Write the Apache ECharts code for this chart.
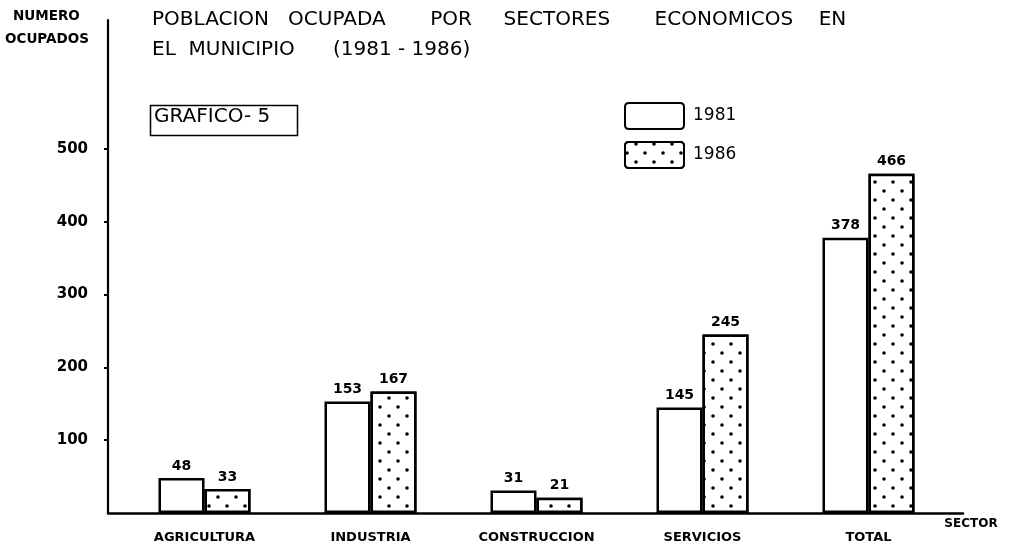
<!DOCTYPE html>
<html>
<head>
<meta charset="utf-8">
<script src="https://cdn.jsdelivr.net/npm/echarts@6/dist/echarts.min.js"></script>
<style>
  html, body { margin: 0; padding: 0; background: #fff; }
  #chart { width: 1010px; height: 546px; }
</style>
</head>
<body>
<div id="chart"></div>
<script>
// Sectors and employed population per census year
const categories = ['AGRICULTURA', 'INDUSTRIA', 'CONSTRUCCION', 'SERVICIOS', 'TOTAL'];
const values1981 = [48, 153, 31, 145, 378];
const values1986 = [33, 167, 21, 245, 466];
const seriesNames = ['1981', '1986'];
const yTicks = [100, 200, 300, 400, 500];
const yMax = 677;

const FONT = 'DejaVu Sans';
const INK = '#000';

// Stippled fill used for the 1986 bars: staggered rows of dots
const dotted = {
  symbol: 'circle',
  symbolSize: 0.9,
  color: INK,
  backgroundColor: '#fff',
  dashArrayX: [[3.6, 13.1], [0, 8.35, 3.6, 4.75]],
  dashArrayY: [3.6, 4.7],
  rotation: 0
};

const barLabel = {
  show: true,
  position: 'top',
  distance: 5,
  fontFamily: FONT,
  fontSize: 14,
  fontWeight: 'bold',
  color: INK
};

const chart = echarts.init(document.getElementById('chart'), null, { renderer: 'canvas' });

chart.setOption({
  animation: false,
  backgroundColor: '#fff',
  textStyle: { fontFamily: FONT, color: INK },
  title: {
    text: 'POBLACION   OCUPADA       POR     SECTORES       ECONOMICOS    EN\nEL  MUNICIPIO      (1981 - 1986)',
    left: 152,
    top: 5,
    padding: 0,
    textStyle: { fontFamily: FONT, fontSize: 20, fontWeight: 'normal', lineHeight: 30, color: INK }
  },
  legend: {
    data: seriesNames,
    orient: 'vertical',
    left: 624,
    top: 102,
    padding: 0,
    itemWidth: 59,
    itemHeight: 26,
    itemGap: 11,
    icon: 'path://M4,0H55Q59,0 59,4V22Q59,26 55,26H4Q0,26 0,22V4Q0,0 4,0Z',
    itemStyle: { borderColor: INK, borderWidth: 2 },
    textStyle: { fontFamily: FONT, fontSize: 17, color: INK, padding: [0, 0, 0, 4] }
  },
  graphic: [
    {
      type: 'text',
      left: 13, top: 9,
      style: { text: 'NUMERO', fontFamily: FONT, fontSize: 13.5, fontWeight: 'bold', fill: INK }
    },
    {
      type: 'text',
      left: 5, top: 32,
      style: { text: 'OCUPADOS', fontFamily: FONT, fontSize: 13.5, fontWeight: 'bold', fill: INK }
    },
    {
      type: 'rect',
      left: 148, top: 103,
      shape: { width: 147, height: 30 },
      style: { fill: 'none', stroke: INK, lineWidth: 1.5 }
    },
    {
      type: 'text',
      left: 154, top: 107,
      style: { text: 'GRAFICO- 5', fontFamily: FONT, fontSize: 20, fill: INK }
    }
  ],
  grid: [
    { left: 108, right: 47, top: 20, bottom: 33 },
    { left: 121.5, right: 58.5, top: 20, bottom: 33 }
  ],
  xAxis: [
    {
      gridIndex: 0,
      type: 'value',
      min: 0,
      max: 1,
      axisLine: { show: true, lineStyle: { color: INK, width: 2.5 } },
      axisTick: { show: false },
      axisLabel: { show: false },
      splitLine: { show: false },
      name: 'SECTOR',
      nameLocation: 'end',
      nameGap: 8,
      nameTextStyle: {
        fontFamily: FONT, fontSize: 12, fontWeight: 'bold', color: INK,
        align: 'center', verticalAlign: 'top', padding: [5, 0, 0, 0]
      }
    },
    {
      gridIndex: 1,
      type: 'category',
      data: categories,
      axisLine: { show: false },
      axisTick: { show: false },
      axisLabel: { margin: 18, fontFamily: FONT, fontSize: 13, fontWeight: 'bold', color: INK }
    }
  ],
  yAxis: [
    {
      gridIndex: 0,
      type: 'value',
      min: 0,
      max: yMax,
      axisLine: { show: true, lineStyle: { color: INK, width: 2.2 } },
      axisTick: { show: true, length: 4, customValues: yTicks, lineStyle: { color: INK, width: 2 } },
      axisLabel: { customValues: yTicks, margin: 20, fontFamily: FONT, fontSize: 15, fontWeight: 'bold', color: INK },
      splitLine: { show: false }
    },
    {
      gridIndex: 1,
      type: 'value',
      min: 0,
      max: yMax,
      show: false,
      splitLine: { show: false }
    }
  ],
  series: [
    {
      name: seriesNames[0],
      type: 'bar',
      xAxisIndex: 1,
      yAxisIndex: 1,
      data: values1981,
      barWidth: 46,
      barGap: '0%',
      itemStyle: { color: '#fff', borderColor: INK, borderWidth: 2.5 },
      label: barLabel
    },
    {
      name: seriesNames[1],
      type: 'bar',
      xAxisIndex: 1,
      yAxisIndex: 1,
      data: values1986,
      barWidth: 46,
      barGap: '0%',
      itemStyle: { color: '#fff', borderColor: INK, borderWidth: 2.5, decal: dotted },
      label: barLabel
    }
  ]
});
</script>
</body>
</html>
